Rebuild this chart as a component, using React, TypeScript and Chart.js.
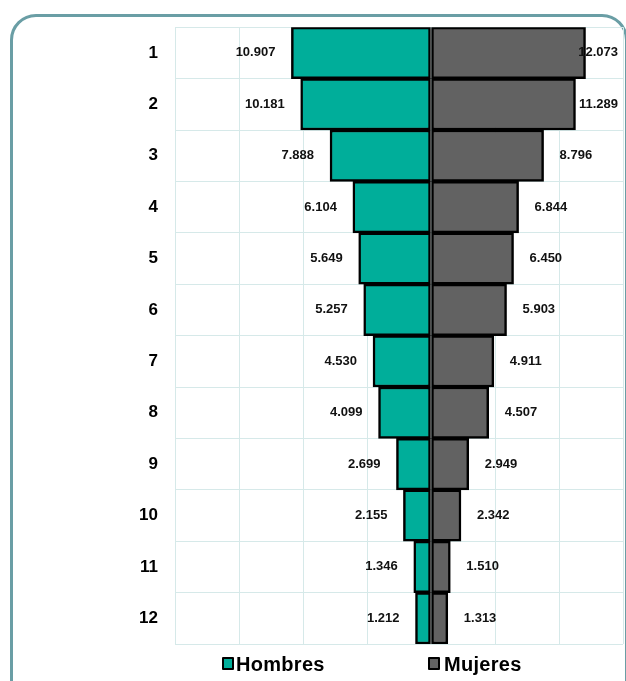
import React, { useEffect, useRef } from "react";
import { Chart, registerables } from "chart.js";

Chart.register(...registerables);

const categories = ["1", "2", "3", "4", "5", "6", "7", "8", "9", "10", "11", "12"];
const hombres = [10.907, 10.181, 7.888, 6.104, 5.649, 5.257, 4.53, 4.099, 2.699, 2.155, 1.346, 1.212];
const mujeres = [12.073, 11.289, 8.796, 6.844, 6.45, 5.903, 4.911, 4.507, 2.949, 2.342, 1.51, 1.313];
const seriesNames = ["Hombres", "Mujeres"];
const colors = ["#00AE9A", "#626262"];

const FONT = "'Liberation Sans', Arial, sans-serif";

const fmt = (v: number) => v.toFixed(3);

const labelPlugin = {
  id: "valueLabels",
  afterDatasetsDraw(chart: any) {
    const ctx = chart.ctx;
    const area = chart.chartArea;
    ctx.save();
    ctx.font = `bold 13px ${FONT}`;
    ctx.fillStyle = "#111";
    ctx.textBaseline = "middle";
    chart.data.datasets.forEach((ds: any, di: number) => {
      const meta = chart.getDatasetMeta(di);
      meta.data.forEach((bar: any, i: number) => {
        const v = Math.abs(ds.data[i]);
        const text = fmt(v);
        const w = ctx.measureText(text).width;
        if (di === 0) {
          const left = Math.min(bar.x, bar.base);
          ctx.textAlign = "right";
          ctx.fillText(text, left - 16, bar.y);
        } else {
          const right = Math.max(bar.x, bar.base);
          let x = right + 16;
          if (x + w > area.right - 5) x = area.right - 5 - w;
          ctx.textAlign = "left";
          ctx.fillText(text, x, bar.y);
        }
      });
    });
    ctx.restore();
  },
};

export default function App() {
  const ref = useRef<HTMLCanvasElement | null>(null);
  useEffect(() => {
    if (!ref.current) return;
    const chart = new Chart(ref.current, {
      type: "bar",
      data: {
        labels: categories,
        datasets: [
          {
            label: seriesNames[0],
            data: hombres.map((v) => -v),
            backgroundColor: colors[0],
            borderColor: "#000",
            borderWidth: 2.5,
            borderSkipped: false,
            barPercentage: 1,
            categoryPercentage: 1,
          },
          {
            label: seriesNames[1],
            data: mujeres,
            backgroundColor: colors[1],
            borderColor: "#000",
            borderWidth: 2.5,
            borderSkipped: false,
            barPercentage: 1,
            categoryPercentage: 1,
          },
        ],
      },
      options: {
        indexAxis: "y",
        animation: false,
        responsive: false,
        maintainAspectRatio: false,
        layout: { padding: { left: 0, right: 3, top: 22, bottom: 37 } },
        plugins: {
          legend: { display: false },
          tooltip: { enabled: false },
        },
        scales: {
          x: {
            stacked: true,
            min: -20,
            max: 15,
            ticks: { display: false, stepSize: 5 },
            grid: { color: "#d6e9e9", lineWidth: 1, drawTicks: false },
            border: { display: false },
          },
          y: {
            stacked: true,
            ticks: {
              color: "#000",
              padding: 17,
              font: { family: FONT, size: 17, weight: "bold" },
            },
            grid: { color: "#d6e9e9", lineWidth: 1, drawTicks: false, offset: true },
            border: { display: false },
            afterFit: (s: any) => {
              s.width = 175;
            },
          },
        },
      },
      plugins: [labelPlugin],
    } as any);
    return () => chart.destroy();
  }, []);

  const legendText: React.CSSProperties = {
    position: "absolute",
    top: 652,
    font: `bold 20px ${FONT}`,
    color: "#000",
    lineHeight: "24px",
    letterSpacing: "0.3px",
  };
  const box = (c: string, left: number): React.CSSProperties => ({
    position: "absolute",
    left,
    top: 657,
    width: 8,
    height: 9,
    background: c,
    border: "2px solid #000",
    borderRadius: 1,
  });

  return (
    <div style={{ position: "absolute", left: 0, top: 0, width: 626, height: 681, background: "#fff", overflow: "hidden" }}>
      <div
        style={{
          position: "absolute",
          left: 10,
          top: 14,
          width: 612,
          height: 720,
          border: "3px solid #6a9ea5",
          borderRadius: 26,
        }}
      />
      <canvas ref={ref} width={626} height={681} style={{ position: "absolute", left: 0, top: 0 }} />
      <div style={box(colors[0], 222)} />
      <div style={{ ...legendText, left: 236 }}>{seriesNames[0]}</div>
      <div style={box(colors[1], 428)} />
      <div style={{ ...legendText, left: 444 }}>{seriesNames[1]}</div>
    </div>
  );
}
